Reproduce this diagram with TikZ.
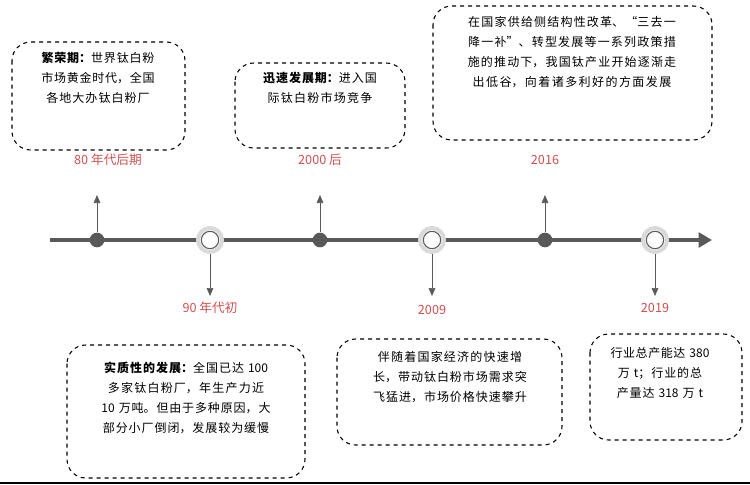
\documentclass[tikz,border=0pt]{standalone}
\usepackage{fontspec}
\setmainfont{Noto Sans CJK SC}
\XeTeXlinebreaklocale "zh"
\XeTeXlinebreakskip=0pt plus 1pt
\usetikzlibrary{arrows.meta}
\definecolor{lineg}{HTML}{595959}
\definecolor{ringg}{HTML}{D9D9D9}
\definecolor{yearred}{HTML}{D0504F}
\tikzset{
  card/.style={dashed,thick,rounded corners=14pt},
  txt/.style={anchor=north,text width=#1,align=center,font=\fontsize{9}{15}\selectfont,inner sep=0},
  year/.style={text=yearred,font=\fontsize{9.5}{11}\selectfont},
  dot/.style={circle,fill=lineg,inner sep=0,minimum size=11pt},
  ring/.style={circle,draw=ringg,line width=3pt,fill=white,minimum size=18pt,inner sep=0},
  tick/.style={lineg,-{Triangle[width=5pt,length=6pt]}}
}
\begin{document}
\begin{tikzpicture}[x=0.75pt,y=-0.75pt]
\useasboundingbox (0,0) rectangle (750,485);

% Timeline
\coordinate (start) at (50,240);
\coordinate (stop) at (712,240);
\draw[lineg,line width=3pt,-{Triangle[width=11pt,length=10pt]}] (start) -- (stop);
\draw[black,line width=1.5pt] (0,483) -- (750,483);

% Points above the line
\foreach \n/\x in {a/97,b/320,c/545}{
  \node[dot] (\n) at (\x,240) {};
  \coordinate (\n top) at (\x,195);
  \draw[tick] (\n) -- (\n top);
}
% Points below the line
\foreach \n/\x in {d/210,e/432,f/655}{
  \node[ring] (\n) at (\x,240) {};
  \draw[lineg,thick] (\n) circle (6.5pt);
  \coordinate (\n bot) at (\x,296);
  \draw[tick] (\n.south) -- (\n bot);
}

% Years
\node[year] (ya) at (108,160) {80 年代后期};
\node[year] (yb) at (320,160) {2000 后};
\node[year] (yc) at (545,160) {2016};
\node[year] (yd) at (210,308) {90 年代初};
\node[year] (ye) at (432,310) {2009};
\node[year] (yf) at (655,308) {2019};

% Cards
\draw[card] (12,42) rectangle (185,150);
\node[txt=105pt] (ta) at (98,52) {\textbf{繁荣期：}世界钛白粉市场黄金时代，全国各地大办钛白粉厂};
\draw[card] (235,63) rectangle (405,148);
\node[txt=112pt] (tb) at (320,72) {\textbf{迅速发展期：}进入国际钛白粉市场竞争};
\draw[card] (433,6) rectangle (712,140);
\node[txt=188pt] (tc) at (572,16) {在国家供给侧结构性改革、“三去一降一补”、转型发展等一系列政策措施的推动下，我国钛产业开始逐渐走出低谷，向着诸多利好的方面发展};
\draw[card] (67,345) rectangle (305,478);
\node[txt=150pt] (td) at (186,362) {\textbf{实质性的发展：}全国已达 100 多家钛白粉厂，年生产力近 10 万吨。但由于多种原因，大部分小厂倒闭，发展较为缓慢};
\draw[card] (337,339) rectangle (562,445);
\node[txt=142pt] (te) at (450,351) {伴随着国家经济的快速增长，带动钛白粉市场需求突飞猛进，市场价格快速攀升};
\draw[card] (590,334) rectangle (742,440);
\node[txt=90pt] (tf) at (660,347) {行业总产能达 380 万 t；行业的总产量达 318 万 t};
\end{tikzpicture}
\end{document}
